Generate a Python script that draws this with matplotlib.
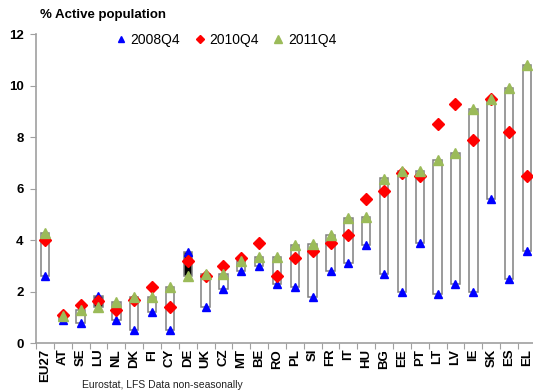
import matplotlib
matplotlib.use("Agg")
import matplotlib.pyplot as plt
import numpy as np
from matplotlib.patches import Rectangle
from matplotlib.lines import Line2D

plt.rcParams['font.family'] = ['Liberation Sans', 'DejaVu Sans']

countries = ["EU27", "AT", "SE", "LU", "NL", "DK", "FI", "CY", "DE", "UK", "CZ", "MT",
             "BE", "RO", "PL", "SI", "FR", "IT", "HU", "BG", "EE", "PT", "LT", "LV",
             "IE", "SK", "ES", "EL"]
q2008 = [2.6, 0.9, 0.8, 1.85, 0.9, 0.5, 1.2, 0.5, 3.55, 1.4, 2.1, 2.8, 3.0, 2.3,
         2.2, 1.8, 2.8, 3.1, 3.8, 2.7, 2.0, 3.9, 1.9, 2.3, 2.0, 5.6, 2.5, 3.6]
q2010 = [4.0, 1.1, 1.5, 1.65, 1.3, 1.7, 2.2, 1.4, 3.2, 2.6, 3.0, 3.3, 3.9, 2.6,
         3.3, 3.6, 3.9, 4.2, 5.6, 5.9, 6.6, 6.5, 8.5, 9.3, 7.9, 9.5, 8.2, 6.5]
q2011 = [4.3, 1.05, 1.3, 1.4, 1.6, 1.8, 1.8, 2.2, 2.6, 2.7, 2.7, 3.2, 3.35, 3.35,
         3.8, 3.85, 4.2, 4.85, 4.9, 6.4, 6.7, 6.7, 7.1, 7.4, 9.1, 9.5, 9.9, 10.8]

BLUE = "#0000FF"
RED = "#FF0000"
GREEN = "#9BBB59"
AXIS_GREY = "#A0A0A0"

fig = plt.figure(figsize=(5.33, 3.92), dpi=100)
ax = fig.add_axes([36 / 533, 48.7 / 392, 499.8 / 533, 309 / 392])

n = len(countries)
x = np.arange(n)

# up/down bars between 2008Q4 and 2011Q4
bw = 0.47
for xi, a, b in zip(x, q2008, q2011):
    lo, hi = min(a, b), max(a, b)
    face = "white" if b >= a else "black"
    ax.add_patch(Rectangle((xi - bw / 2, lo), bw, hi - lo, facecolor=face,
                           edgecolor="#808080", linewidth=1.1, zorder=2))

ax.plot(x, q2008, linestyle="none", marker="^", color=BLUE, markersize=5.5, zorder=3)
ax.plot(x, q2010, linestyle="none", marker="D", color=RED, markersize=6, zorder=4)
ax.plot(x, q2011, linestyle="none", marker="^", color=GREEN, markersize=7.5, zorder=5)

ax.set_xlim(-0.5, n - 0.5)
ax.set_ylim(0, 12)

for s in ["top", "right"]:
    ax.spines[s].set_visible(False)
for s in ["left", "bottom"]:
    ax.spines[s].set_color(AXIS_GREY)
    ax.spines[s].set_linewidth(1.2)

ax.set_yticks(np.arange(0, 13, 2))
ax.set_yticklabels([str(v) for v in range(0, 13, 2)], fontsize=9.5, fontweight="bold")
ax.tick_params(axis="y", direction="out", length=4, color=AXIS_GREY, pad=5)

ax.set_xticks(np.arange(-0.5, n, 1.0))
ax.set_xticklabels([])
ax.tick_params(axis="x", which="major", direction="out", length=4, color=AXIS_GREY)
ax.set_xticks(x, minor=True)
ax.set_xticklabels(countries, minor=True, rotation=90, fontsize=9.5, fontweight="bold")
ax.tick_params(axis="x", which="minor", length=0, pad=4)

fig.text(40 / 533, 1 - 15 / 392, "% Active population", fontsize=9.5,
         fontweight="bold", va="center", ha="left")
fig.text(82 / 533, 1 - 385 / 392, "Eurostat, LFS Data non-seasonally", fontsize=7.5,
         va="center", ha="left", color="#222222")

handles = [
    Line2D([], [], linestyle="none", marker="^", color=BLUE, markersize=4.5),
    Line2D([], [], linestyle="none", marker="D", color=RED, markersize=4.5),
    Line2D([], [], linestyle="none", marker="^", color=GREEN, markersize=6),
]
fig.legend(handles, ["2008Q4", "2010Q4", "2011Q4"], ncol=3, frameon=False,
           loc="center", bbox_to_anchor=(226 / 533, 1 - 40 / 392),
           fontsize=10, handlelength=0.8, handletextpad=0.3, columnspacing=1.0)

fig.savefig("out.png", dpi=100)
